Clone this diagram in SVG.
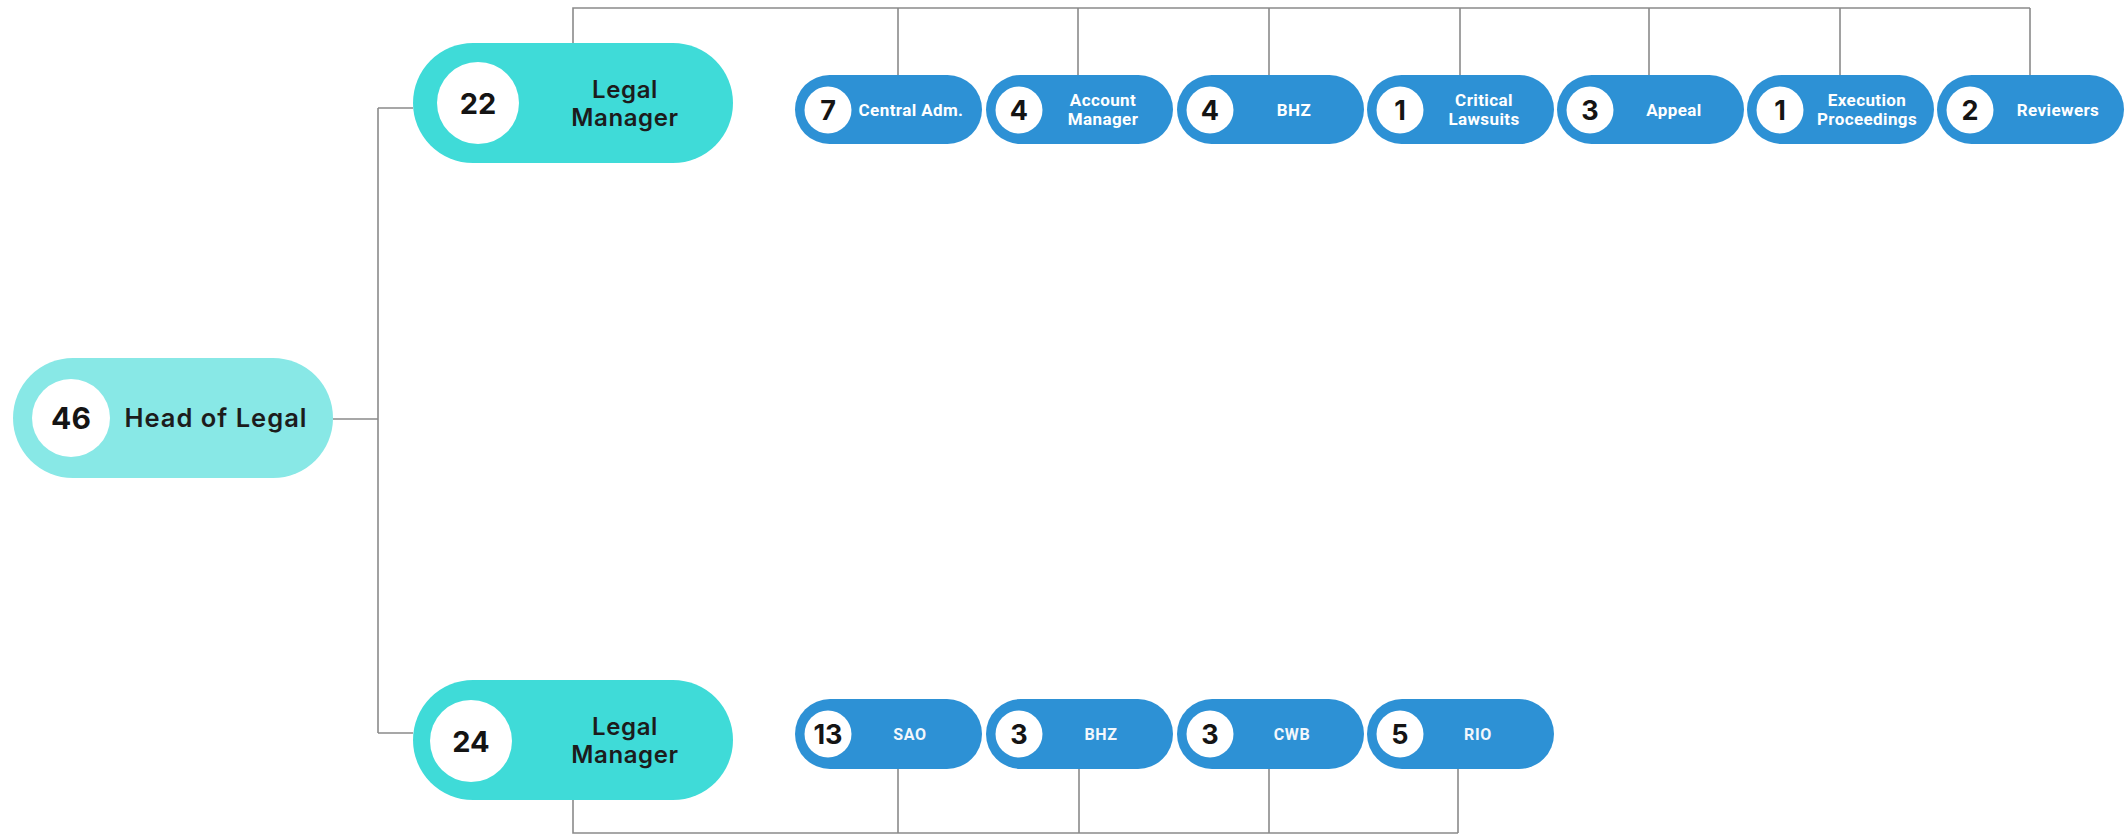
<svg xmlns="http://www.w3.org/2000/svg" width="2126" height="834" viewBox="0 0 2126 834">
<style>
.bg{fill:#ffffff}
.head{fill:#88E8E6}
.mgr{fill:#3FDBD8}
.team{fill:#2D91D5}
.circ{fill:#ffffff}
.num{font-family:Inter,"Liberation Sans",sans-serif;font-weight:700;fill:#141414;text-anchor:middle}
.big{font-size:30px}
.mid{font-size:29px}
.sm{font-size:27px}
.ttl{font-family:Inter,"Liberation Sans",sans-serif;font-weight:600;font-size:24px;fill:#1c1c1c;text-anchor:middle;letter-spacing:0.6px}
.hl{font-size:25.5px;letter-spacing:1px}
.lbl{font-family:Roboto,"Liberation Sans",sans-serif;font-weight:700;font-size:17px;fill:#ffffff;text-anchor:middle;letter-spacing:0.4px}
.lbl2{font-family:Roboto,"Liberation Sans",sans-serif;font-weight:700;font-size:16px;fill:#f2f7fc;text-anchor:middle;letter-spacing:0.6px}
.ln{fill:none;stroke:#8a8a8a;stroke-width:1.6}
</style>
<rect class="bg" x="0" y="0" width="2126" height="834"/>
<g id="connectors">
<path class="ln" d="M333 419H378M378 108V733M378 108H413M378 733H413"/>
<path class="ln" d="M573 43V8H2030M898 8V75M1078 8V75M1269 8V75M1460 8V75M1649 8V75M1840 8V75M2030 8V75"/>
<path class="ln" d="M573 800V833H1458M898 769V833M1079 769V833M1269 769V833M1458 769V833"/>
</g>
<g id="head">
<rect class="head" x="13" y="358" width="320" height="120" rx="60"/>
<circle class="circ" cx="71" cy="418" r="39"/>
<text class="num big" x="71" y="429">46</text>
<text class="ttl hl" x="216" y="427">Head of Legal</text>
</g>
<g id="manager-top">
<rect class="mgr" x="413" y="43" width="320" height="120" rx="60"/>
<circle class="circ" cx="478" cy="103" r="41"/>
<text class="num mid" x="478" y="114">22</text>
<text class="ttl" x="625" y="98">Legal</text>
<text class="ttl" x="625" y="126">Manager</text>
</g>
<g id="manager-bottom">
<rect class="mgr" x="413" y="680" width="320" height="120" rx="60"/>
<circle class="circ" cx="471" cy="741" r="41"/>
<text class="num mid" x="471" y="752">24</text>
<text class="ttl" x="625" y="735">Legal</text>
<text class="ttl" x="625" y="763">Manager</text>
</g>
<g id="central-adm">
<rect class="team" x="795" y="75" width="187" height="69" rx="34.5"/>
<circle class="circ" cx="828" cy="110" r="23.5"/>
<text class="num sm" x="828" y="120">7</text>
<text class="lbl" x="911" y="116">Central Adm.</text>
</g>
<g id="account-manager">
<rect class="team" x="986" y="75" width="187" height="69" rx="34.5"/>
<circle class="circ" cx="1019" cy="110" r="23.5"/>
<text class="num sm" x="1019" y="120">4</text>
<text class="lbl" x="1103" y="106">Account</text>
<text class="lbl" x="1103" y="125">Manager</text>
</g>
<g id="bhz-top">
<rect class="team" x="1177" y="75" width="187" height="69" rx="34.5"/>
<circle class="circ" cx="1210" cy="110" r="23.5"/>
<text class="num sm" x="1210" y="120">4</text>
<text class="lbl" x="1294" y="116">BHZ</text>
</g>
<g id="critical-lawsuits">
<rect class="team" x="1367" y="75" width="187" height="69" rx="34.5"/>
<circle class="circ" cx="1400" cy="110" r="23.5"/>
<text class="num sm" x="1400" y="120">1</text>
<text class="lbl" x="1484" y="106">Critical</text>
<text class="lbl" x="1484" y="125">Lawsuits</text>
</g>
<g id="appeal">
<rect class="team" x="1557" y="75" width="187" height="69" rx="34.5"/>
<circle class="circ" cx="1590" cy="110" r="23.5"/>
<text class="num sm" x="1590" y="120">3</text>
<text class="lbl" x="1674" y="116">Appeal</text>
</g>
<g id="execution-proceedings">
<rect class="team" x="1747" y="75" width="187" height="69" rx="34.5"/>
<circle class="circ" cx="1780" cy="110" r="23.5"/>
<text class="num sm" x="1780" y="120">1</text>
<text class="lbl" x="1867" y="106">Execution</text>
<text class="lbl" x="1867" y="125">Proceedings</text>
</g>
<g id="reviewers">
<rect class="team" x="1937" y="75" width="187" height="69" rx="34.5"/>
<circle class="circ" cx="1970" cy="110" r="23.5"/>
<text class="num sm" x="1970" y="120">2</text>
<text class="lbl" x="2058" y="116">Reviewers</text>
</g>
<g id="sao">
<rect class="team" x="795" y="699" width="187" height="70" rx="35"/>
<circle class="circ" cx="828" cy="734" r="23.5"/>
<text class="num sm" x="828" y="744">13</text>
<text class="lbl2" x="910" y="740">SAO</text>
</g>
<g id="bhz-bottom">
<rect class="team" x="986" y="699" width="187" height="70" rx="35"/>
<circle class="circ" cx="1019" cy="734" r="23.5"/>
<text class="num sm" x="1019" y="744">3</text>
<text class="lbl2" x="1101" y="740">BHZ</text>
</g>
<g id="cwb">
<rect class="team" x="1177" y="699" width="187" height="70" rx="35"/>
<circle class="circ" cx="1210" cy="734" r="23.5"/>
<text class="num sm" x="1210" y="744">3</text>
<text class="lbl2" x="1292" y="740">CWB</text>
</g>
<g id="rio">
<rect class="team" x="1367" y="699" width="187" height="70" rx="35"/>
<circle class="circ" cx="1400" cy="734" r="23.5"/>
<text class="num sm" x="1400" y="744">5</text>
<text class="lbl2" x="1478" y="740">RIO</text>
</g>
</svg>
